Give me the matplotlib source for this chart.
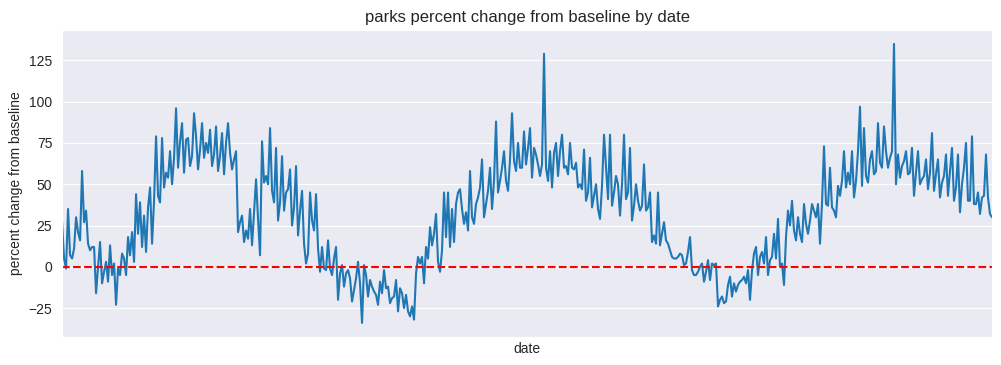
import matplotlib

matplotlib.use("Agg")

import matplotlib.pyplot as plt
import pandas as pd
import seaborn as sns

# Values, one every two days, split by stretch of the chart.
spring_2020 = [27, 5, -1, 35, 7, 5, 11, 30, 21, 16,
               58, 27, 34, 14, 10, 12, 12, -16, 0, 15,
               -10, -3, 3, -9, 13, -5, 2, -23, -1, -5,
               8, 5, -5, 18, 7, 21, 3, 44, 20, 39,
               12, 31, 9, 36, 48, 14, 40, 79, 43, 39,
               78, 48, 57, 54, 70, 50, 66, 96, 60]
summer_2020 = [76, 87, 57, 77, 78, 61, 67, 93, 79, 59,
               71, 87, 66, 75, 69, 83, 61, 68, 85, 58,
               67, 81, 56, 75, 87, 69, 59, 65, 70, 21,
               27, 31, 15, 22, 17, 35, 13, 33, 53, 29,
               7, 76, 51, 55, 50, 84, 46, 39, 72, 28,
               39, 67, 34, 45, 47, 59, 25, 36, 61, 19]
winter_2020 = [34, 46, 14, 2, 8, 45, 28, 22, 44, 11,
               -3, 12, -1, -2, 16, -1, -5, 5, 12, -20,
               -4, 1, -12, -4, -2, -7, -21, -14, -7, 3,
               -10, -34, 1, -5, -18, -8, -12, -15, -17, -23,
               -9, -16, -2, -13, -12, -22, -19, -18, -8, -27,
               -13, -16, -25, -17, -27, -30, -24, -32, -4, 6]
spring_2021 = [2, 6, -10, 12, 5, 24, 13, 20, 32, 3,
               -3, 10, 45, 18, 45, 12, 35, 15, 38, 45,
               47, 35, 26, 33, 22, 58, 30, 26, 38, 42,
               48, 65, 30, 38, 46, 60, 35, 52, 88, 45,
               52, 60, 70, 52, 46, 65, 93, 64, 58, 75,
               60, 60, 82, 62, 72, 84, 54, 72, 68, 62]
summer_2021 = [55, 62, 129, 60, 52, 70, 48, 69, 75, 55,
               70, 80, 60, 61, 56, 75, 60, 59, 63, 48,
               50, 47, 71, 40, 45, 66, 36, 43, 50, 35,
               29, 49, 80, 60, 41, 80, 37, 45, 55, 50,
               31, 50, 80, 41, 45, 72, 28, 37, 50, 40,
               34, 37, 62, 34, 36, 45, 15, 19, 14, 45]
winter_2021 = [13, 20, 27, 16, 14, 10, 6, 5, 5, 6,
               8, 7, 1, 2, 9, 18, -2, -5, -5, -3,
               0, 2, -9, -3, 4, -8, 2, 1, 2, -24,
               -20, -18, -22, -21, -11, -6, -18, -10, -15, -11,
               -9, -8, -6, -10, -2, -20, -2, 8, 12, -5,
               6, 9, 2, 18, -5, 4, 6, 20, 5, 29]
spring_2022 = [0, 2, -11, 18, 34, 25, 40, 22, 16, 30,
               20, 15, 38, 26, 20, 28, 38, 34, 30, 38,
               14, 38, 73, 38, 37, 60, 36, 34, 30, 49,
               43, 52, 70, 48, 57, 50, 70, 42, 52, 70,
               97, 49, 84, 55, 51, 65, 70, 56, 58, 87,
               63, 60, 85, 70, 60, 66, 70, 135, 50, 68]
summer_2022 = [54, 61, 64, 70, 56, 57, 72, 43, 57, 70,
               50, 53, 55, 65, 47, 57, 81, 46, 56, 65,
               42, 51, 55, 68, 43, 58, 72, 40, 48, 68,
               33, 50, 60, 75, 40, 40, 79, 38, 38, 45,
               32, 42, 43, 68, 42, 32, 30]

parks = (spring_2020 + summer_2020 + winter_2020 + spring_2021
         + summer_2021 + winter_2021 + spring_2022 + summer_2022)
dates = pd.date_range("2020-02-15", periods=len(parks), freq="2D")

sns.set_style("darkgrid")
plt.rcParams["font.sans-serif"] = ["Liberation Sans", "DejaVu Sans"]

fig, ax = plt.subplots(figsize=(10.01, 3.65), dpi=100)
fig.subplots_adjust(left=0.062, right=0.991, top=0.918, bottom=0.077)

ax.plot(dates, parks, color="#1f77b4", linewidth=1.5)
ax.axhline(0, color="red", linestyle="--")

ax.set_xlim(dates[0], dates[-1])
ax.set_xticks([])
ax.set_title("parks percent change from baseline by date")
ax.set_xlabel("date")
ax.set_ylabel("percent change from baseline")

fig.savefig("out.png", dpi=100)
plt.close(fig)
